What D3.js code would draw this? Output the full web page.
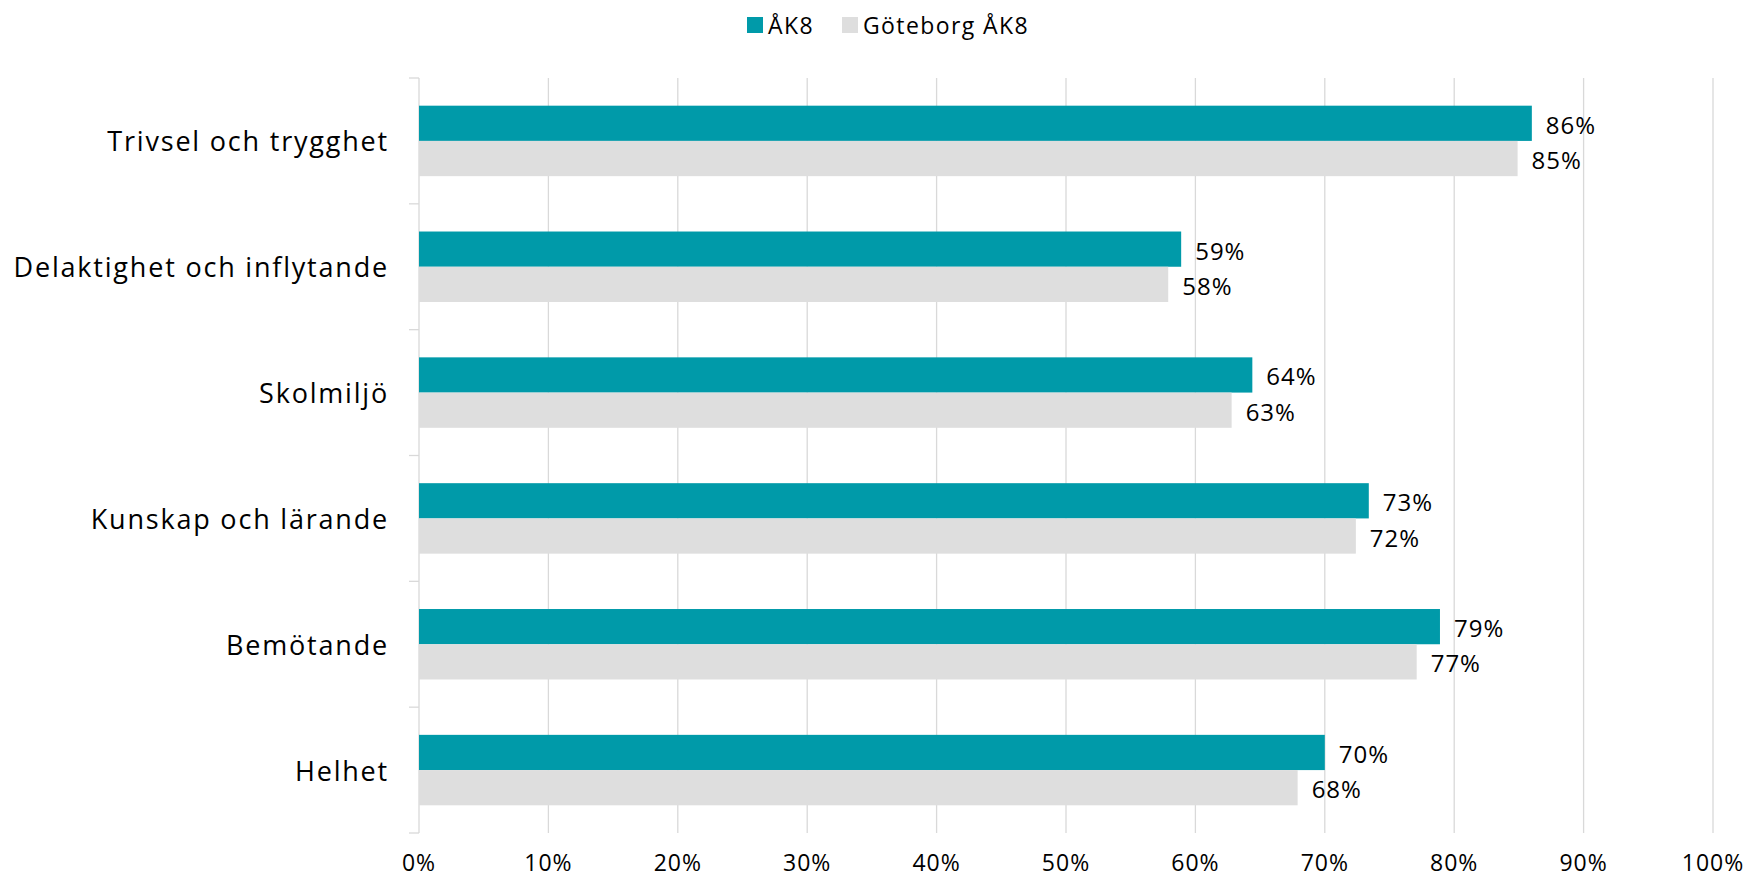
<!DOCTYPE html>
<html>
<head>
<meta charset="utf-8">
<script src="https://cdn.jsdelivr.net/npm/d3@7"></script>
<style>
  body { margin: 0; background: #fff; }
  text { font-family: "Open Sans", sans-serif; fill: #000; }
</style>
</head>
<body>
<div id="chart"></div>
<script>
const categories = ['Trivsel och trygghet', 'Delaktighet och inflytande', 'Skolmiljö', 'Kunskap och lärande', 'Bemötande', 'Helhet'];
const seriesNames = ['ÅK8', 'Göteborg ÅK8'];
const ak8 = [86.0, 58.9, 64.4, 73.4, 78.9, 70.0];
const goteborgAk8 = [84.9, 57.9, 62.8, 72.4, 77.1, 67.9];
const xTicks = [0, 10, 20, 30, 40, 50, 60, 70, 80, 90, 100];

const width = 1748;
const height = 878;
const margin = {top: 78, right: 35, bottom: 45, left: 419};
const colors = ['#009aa9', '#dedede'];

const svg = d3.select('#chart')
  .append('svg')
    .attr('width', width)
    .attr('height', height);

const x = d3.scaleLinear()
  .domain([0, 100])
  .range([margin.left, width - margin.right]);

const y = d3.scaleBand()
  .domain(categories)
  .range([margin.top, height - margin.bottom])
  .paddingInner(0)
  .paddingOuter(0);

const barH = y.bandwidth() * 0.28;

// gridlines
svg.append('g')
  .selectAll('line')
  .data(xTicks.slice(1))
  .join('line')
    .attr('x1', d => x(d))
    .attr('x2', d => x(d))
    .attr('y1', margin.top)
    .attr('y2', height - margin.bottom)
    .attr('stroke', '#d9d9d9')
    .attr('stroke-width', 1.3);

// x tick labels
svg.append('g')
  .selectAll('text')
  .data(xTicks)
  .join('text')
    .attr('x', d => x(d))
    .attr('y', 871)
    .attr('text-anchor', 'middle')
    .style('font-size', '23px')
    .style('letter-spacing', '1px')
    .text(d => d + '%');

// left axis
const yAxis = svg.append('g')
  .attr('transform', `translate(${margin.left}, 0)`);
yAxis.append('line')
  .attr('x1', 0).attr('x2', 0)
  .attr('y1', margin.top).attr('y2', height - margin.bottom)
  .attr('stroke', '#d9d9d9')
  .attr('stroke-width', 1.3);
yAxis.selectAll('.tick')
  .data(categories.map(c => y(c)).concat([height - margin.bottom]))
  .join('line')
    .attr('class', 'tick')
    .attr('x1', -10).attr('x2', 0)
    .attr('y1', d => d).attr('y2', d => d)
    .attr('stroke', '#d9d9d9')
    .attr('stroke-width', 1.3);

svg.append('g')
  .selectAll('text')
  .data(categories)
  .join('text')
    .attr('x', 389)
    .attr('y', d => y(d) + y.bandwidth() / 2)
    .attr('text-anchor', 'end')
    .attr('dominant-baseline', 'central')
    .style('font-size', '27px')
    .style('letter-spacing', '1.8px')
    .text(d => d);

// bars
const series = [ak8, goteborgAk8];
series.forEach((values, s) => {
  const g = svg.append('g');
  const top = d => y(d) + y.bandwidth() / 2 - barH + s * barH;
  g.selectAll('rect')
    .data(categories)
    .join('rect')
      .attr('x', x(0))
      .attr('y', d => top(d))
      .attr('width', (d, i) => x(values[i]) - x(0))
      .attr('height', barH)
      .attr('fill', colors[s]);
  g.selectAll('text')
    .data(categories)
    .join('text')
      .attr('x', (d, i) => x(values[i]) + 14)
      .attr('y', d => top(d) + barH / 2 + 1)
      .attr('dominant-baseline', 'central')
      .style('font-size', '24px')
      .style('letter-spacing', '1px')
      .text((d, i) => Math.round(values[i]) + '%');
});

// legend
const legendItems = [
  {name: seriesNames[0], x: 747, color: colors[0]},
  {name: seriesNames[1], x: 842, color: colors[1]}
];
const legend = svg.append('g')
  .selectAll('g')
  .data(legendItems)
  .join('g')
    .attr('transform', d => `translate(${d.x}, 0)`);
legend.append('rect')
  .attr('x', 0).attr('y', 17)
  .attr('width', 16).attr('height', 16)
  .attr('fill', d => d.color);
legend.append('text')
  .attr('x', 21)
  .attr('y', 25)
  .attr('dominant-baseline', 'central')
  .style('font-size', '23px')
  .style('letter-spacing', '1.4px')
  .text(d => d.name);
</script>
</body>
</html>
